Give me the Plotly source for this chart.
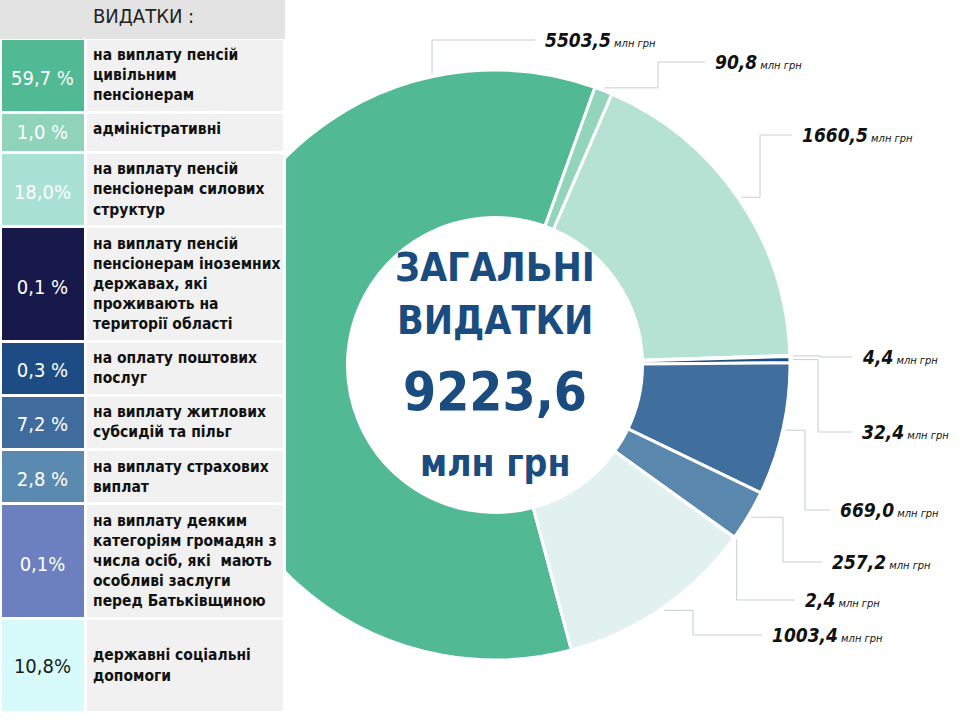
import math
import plotly.graph_objects as go

# дані
categories = [
    "на виплату пенсій<br>цивільним<br>пенсіонерам",
    "адміністративні",
    "на виплату пенсій<br>пенсіонерам силових<br>структур",
    "на виплату пенсій<br>пенсіонерам іноземних<br>державах, які<br>проживають на<br>території області",
    "на оплату поштових<br>послуг",
    "на виплату житлових<br>субсидій та пільг",
    "на виплату страхових<br>виплат",
    "на виплату деяким<br>категоріям громадян з<br>числа осіб, які  мають<br>особливі заслуги<br>перед Батьківщиною",
    "державні соціальні<br>допомоги",
]
amounts = [5503.5, 90.8, 1660.5, 4.4, 32.4, 669.0, 257.2, 2.4, 1003.4]
shares = ["59,7 %", "1,0 %", "18,0%", "0,1 %", "0,3 %", "7,2 %", "2,8 %", "0,1%", "10,8%"]

slice_colors = ["#52b995", "#93d4bd", "#b6e2d4", "#1c3f78", "#1d4e88",
                "#416f9d", "#5a87ad", "#6f7fc0", "#e1f1f0"]
cell_colors = ["#52b995", "#8fd3bb", "#a9e2d4", "#16194a", "#1d4c85",
               "#3f6c9d", "#5a8ab0", "#6c80c0", "#d7fafa"]
share_font_colors = ["white"] * 8 + ["#1a1a1a"]

W, H = 960, 720
CX, CY, R = 495, 365, 295
ROTATION = 165

FONT = "DejaVu Sans Condensed, DejaVu Sans, sans-serif"


def fmt(v):
    return f"{v:.1f}".replace(".", ",")


def blank(px):
    # порожній рядок; його кегль зсуває відсоток до середини клітинки
    return f"<span style='font-size:{px}px'>&nbsp;</span><br>"


text_cells, share_cells = [], []
last = len(categories) - 1
for i, (c, s) in enumerate(zip(categories, shares)):
    n = c.count("<br>") + 1
    if i == last:
        lead = blank(7) + blank(7)
        text_cells.append(f"{blank(15.5)}<b>{c}</b><br>&nbsp;")
    else:
        if n == 1:
            lead = ""
        elif n == 2:
            lead = blank(9)
        else:
            lead = blank(20) * ((n - 1) // 2)
        text_cells.append(f"<b>{c}</b>")
    share_cells.append(f"{lead}<span style='font-size:20px'>{s}</span><br>")

fig = go.Figure()

fig.add_trace(go.Pie(
    values=amounts,
    labels=[c.replace("<br>", " ") for c in categories],
    hole=0.5,
    sort=False,
    direction="clockwise",
    rotation=ROTATION,
    marker=dict(colors=slice_colors, line=dict(color="white", width=3)),
    textinfo="none",
    hoverinfo="label+value+percent",
    showlegend=False,
    domain=dict(x=[(CX - R) / W, (CX + R) / W], y=[(H - CY - R) / H, (H - CY + R) / H]),
))

fig.add_trace(go.Table(
    domain=dict(x=[0, 284 / W], y=[0, 1]),
    columnwidth=[85, 199],
    header=dict(
        values=["", "ВИДАТКИ :"],
        fill_color="#e3e3e3",
        line=dict(color="#e3e3e3", width=1),
        align=["center", "left"],
        font=dict(family=FONT, size=20, color="#222"),
        height=38,
    ),
    cells=dict(
        values=[share_cells, text_cells],
        fill_color=[cell_colors, ["#f1f1f1"] * len(categories)],
        line=dict(color="white", width=3),
        align=["center", "left"],
        font=dict(family=FONT, size=15.5, color=[share_font_colors, "#111"]),
        height=37,
    ),
))

# підписи з виносними лініями
label_pos = [(543, 40, None), (713, 62, 658), (800, 135, 760), (860, 357, 820),
             (860, 432, 818), (838, 510, 805), (830, 562, 783), (803, 600, None),
             (770, 635, 693)]
total = sum(amounts)
start = ROTATION
shapes = []
annotations = []
for i, v in enumerate(amounts):
    span = v / total * 360
    ang = start + span / 2 if i else start + span - 32
    start += span
    a = math.radians(ang)
    ax, ay = CX + (R + 3) * math.sin(a), CY - (R + 3) * math.cos(a)
    lx, ly, ex = label_pos[i]
    if ex is None:
        pts = [(ax, ay), (ax, ly), (lx - 8, ly)]
    else:
        pts = [(ax, ay), (ex, ay), (ex, ly), (lx - 8, ly)]
    path = "M " + " L ".join(f"{x / W:.5f},{1 - y / H:.5f}" for x, y in pts)
    shapes.append(dict(type="path", path=path, xref="paper", yref="paper",
                       line=dict(color="#c5ced3", width=1)))
    annotations.append(dict(
        x=lx / W, y=1 - ly / H, xref="paper", yref="paper",
        xanchor="left", yanchor="middle", showarrow=False,
        text=f"<b><i>{fmt(v)}</i></b><span style='font-size:11px'><i> млн грн</i></span>",
        font=dict(family=FONT, size=19, color="#111"),
    ))

# центр
center_lines = [("ЗАГАЛЬНІ", 39, 267), ("ВИДАТКИ", 39, 320), (fmt(total), 53, 392), ("млн грн", 37, 463)]
for txt, size, y in center_lines:
    annotations.append(dict(
        x=CX / W, y=1 - y / H, xref="paper", yref="paper",
        xanchor="center", yanchor="middle", showarrow=False,
        text=f"<b>{txt}</b>",
        font=dict(family=FONT, size=size, color="#1a4c80"),
    ))

fig.update_layout(
    width=W, height=H,
    margin=dict(l=0, r=0, t=0, b=0),
    paper_bgcolor="white",
    shapes=shapes,
    annotations=annotations,
)

fig.write_html("out.html", config={"displayModeBar": False},
               post_script="document.body.style.margin='0';")
